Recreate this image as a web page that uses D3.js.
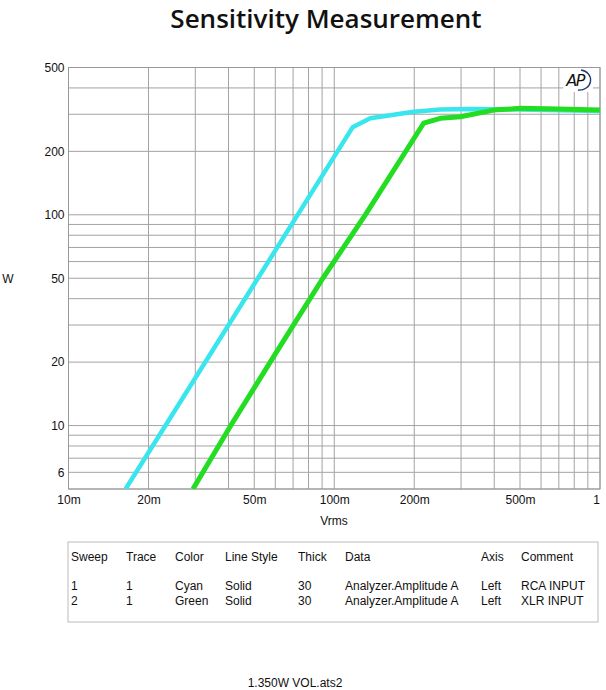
<!DOCTYPE html>
<html>
<head>
<meta charset="utf-8">
<script src="https://cdn.jsdelivr.net/npm/d3@7"></script>
<style>
  html, body { margin: 0; padding: 0; background: #fff; }
  svg { display: block; }
  text { font-family: "Liberation Sans", Arial, sans-serif; fill: #111; }
</style>
</head>
<body>
<svg id="chart" width="606" height="690"></svg>
<script>
// ---- data ----
const xTickValues = [0.01, 0.02, 0.05, 0.1, 0.2, 0.5, 1];
const xTickLabels = ["10m", "20m", "50m", "100m", "200m", "500m", "1"];
const yTickValues = [6, 10, 20, 50, 100, 200, 500];
const yTickLabels = ["6", "10", "20", "50", "100", "200", "500"];

const cyanVrms = [0.0164, 0.0263, 0.0789, 0.1172, 0.1366, 0.199, 0.2506, 0.3254, 0.5, 0.7, 1.0];
const cyanW    = [5, 12.9, 117.4, 260, 287, 308, 316, 318, 316, 313, 311];

const greenVrms = [0.0294, 0.0408, 0.0574, 0.0906, 0.1309, 0.2169, 0.2506, 0.2983, 0.398, 0.5016, 0.7, 1.0];
const greenW    = [5, 10, 20, 50, 100, 272, 287, 292, 314, 320, 318, 314];

const tableHeaders = ["Sweep", "Trace", "Color", "Line Style", "Thick", "Data", "Axis", "Comment"];
const tableRow1 = ["1", "1", "Cyan", "Solid", "30", "Analyzer.Amplitude A", "Left", "RCA INPUT"];
const tableRow2 = ["2", "1", "Green", "Solid", "30", "Analyzer.Amplitude A", "Left", "XLR INPUT"];

// ---- layout ----
const svg = d3.select("#chart");
const plot = { left: 68.5, right: 600, top: 67.5, bottom: 489 };

const x = d3.scaleLog().domain([0.01, 1]).range([plot.left, plot.right]);
const y = d3.scaleLog().domain([5, 500]).range([plot.bottom, plot.top]);

// title
svg.append("text")
  .attr("x", 326).attr("y", 28)
  .attr("text-anchor", "middle")
  .style("font-family", "'Open Sans', sans-serif")
  .style("font-weight", "600")
  .style("font-size", "26px")
  .text("Sensitivity Measurement");

// grid
const xGrid = [];
[0.01, 0.1].forEach(d => { for (let i = 1; i <= 9; i++) xGrid.push(d * i); });
xGrid.push(1);
const yGrid = [];
[5, 6, 7, 8, 9].forEach(v => yGrid.push(v));
[10, 100].forEach(d => { for (let i = 1; i <= 9; i++) yGrid.push(d * i); });
const yGridF = yGrid.filter(v => v <= 500);

const g = svg.append("g");
g.selectAll("line.xg").data(xGrid).join("line")
  .attr("x1", d => x(d)).attr("x2", d => x(d))
  .attr("y1", plot.top).attr("y2", plot.bottom)
  .attr("stroke", "#a3a3a3").attr("stroke-width", 1);
g.selectAll("line.yg").data(yGridF).join("line")
  .attr("y1", d => y(d)).attr("y2", d => y(d))
  .attr("x1", plot.left).attr("x2", plot.right)
  .attr("stroke", "#a3a3a3").attr("stroke-width", 1);
g.append("rect")
  .attr("x", plot.left).attr("y", plot.top)
  .attr("width", plot.right - plot.left).attr("height", plot.bottom - plot.top)
  .attr("fill", "none").attr("stroke", "#999").attr("stroke-width", 1);

// axes (labels only)
const xAxis = d3.axisBottom(x).tickValues(xTickValues)
  .tickFormat((d, i) => xTickLabels[i]).tickSize(0).tickPadding(6);
const xa = svg.append("g").attr("transform", `translate(0,${plot.bottom})`).call(xAxis);
xa.select(".domain").remove();
xa.selectAll("text").style("font-size", "12px").style("font-family", "'Liberation Sans', Arial, sans-serif").attr("fill", "#111")
  .attr("dx", (d, i) => i === xTickValues.length - 1 ? -4 : 0);

const yAxis = d3.axisLeft(y).tickValues(yTickValues)
  .tickFormat((d, i) => yTickLabels[i]).tickSize(0).tickPadding(4);
const ya = svg.append("g").attr("transform", `translate(${plot.left},0)`).call(yAxis);
ya.select(".domain").remove();
ya.selectAll("text").style("font-size", "12px").style("font-family", "'Liberation Sans', Arial, sans-serif").attr("fill", "#111");

// axis titles
svg.append("text").attr("x", 334).attr("y", 525).attr("text-anchor", "middle")
  .style("font-size", "12px").text("Vrms");
svg.append("text").attr("x", 8).attr("y", 283).attr("text-anchor", "middle")
  .style("font-size", "12px").text("W");

// curves
svg.append("clipPath").attr("id", "plotclip").append("rect")
  .attr("x", plot.left).attr("y", plot.top)
  .attr("width", plot.right - plot.left + 4).attr("height", plot.bottom - plot.top);
const line = d3.line().x(d => x(d[0])).y(d => y(d[1]));
const curves = svg.append("g").attr("clip-path", "url(#plotclip)");
curves.append("path")
  .datum(cyanVrms.map((v, i) => [v, cyanW[i]]))
  .attr("d", line).attr("fill", "none")
  .attr("stroke", "#3ae6ee").attr("stroke-width", 4.5)
  .attr("stroke-linejoin", "round");
curves.append("path")
  .datum(greenVrms.map((v, i) => [v, greenW[i]]))
  .attr("d", line).attr("fill", "none")
  .attr("stroke", "#22dd22").attr("stroke-width", 5)
  .attr("stroke-linejoin", "round");

// AP logo
const logo = svg.append("g").attr("transform", "translate(577,80)");
logo.append("rect").attr("x", -14).attr("y", -12).attr("width", 30).attr("height", 24).attr("fill", "#fff");
logo.append("text").attr("x", -2).attr("y", 6).attr("text-anchor", "middle")
  .style("font-family", "'DejaVu Sans', sans-serif").style("font-style", "italic")
  .style("font-size", "16px").attr("fill", "#1f3a78").attr("letter-spacing", "-1.5")
  .text("AP");
logo.append("path")
  .attr("d", "M 1 10 A 11 10 0 0 0 4 -10")
  .attr("fill", "none").attr("stroke", "#1f3a78").attr("stroke-width", 1.4);

// table
svg.append("rect").attr("x", 68).attr("y", 542).attr("width", 530).attr("height", 80)
  .attr("fill", "none").attr("stroke", "#bbb").attr("stroke-width", 1);
const colX = [71, 126, 175, 225, 298, 345, 481, 521];
const rows = [[tableHeaders, 561], [tableRow1, 590], [tableRow2, 605]];
rows.forEach(([vals, yy]) => {
  svg.append("g").selectAll("text").data(vals).join("text")
    .attr("x", (d, i) => colX[i]).attr("y", yy)
    .style("font-size", "12px")
    .text(d => d);
});

// footer
svg.append("text").attr("x", 295).attr("y", 687).attr("text-anchor", "middle")
  .style("font-size", "12px").text("1.350W VOL.ats2");
</script>
</body>
</html>
